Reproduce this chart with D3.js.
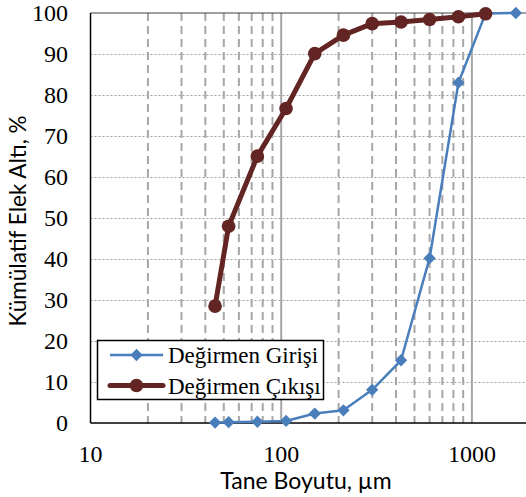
<!DOCTYPE html>
<html>
<head>
<meta charset="utf-8">
<script src="https://cdn.jsdelivr.net/npm/d3@7/dist/d3.min.js"></script>
<style>
  html, body { margin: 0; padding: 0; background: #fff; }
  svg { display: block; }
</style>
</head>
<body>
<svg id="chart" width="526" height="497"></svg>
<script>
// Sieve sizes (µm) and cumulative passing (%) for mill feed and mill product
const sizes = [45, 53, 75, 106, 150, 212, 300, 425, 600, 850, 1180, 1700];
const girisi = [0.1, 0.2, 0.3, 0.5, 2.3, 3.1, 8.1, 15.3, 40.2, 83.0, 99.9, 100];
const cikisiSizes = [45, 53, 75, 106, 150, 212, 300, 425, 600, 850, 1180];
const cikisi = [28.5, 48.0, 65.1, 76.7, 90.1, 94.6, 97.4, 97.8, 98.4, 99.1, 99.8];
const yTicks = [0, 10, 20, 30, 40, 50, 60, 70, 80, 90, 100];
const xTickLabels = [10, 100, 1000];
const seriesNames = ["Değirmen Girişi", "Değirmen Çıkışı"];

const svg = d3.select("#chart");
const plotLeft = 90.5, plotTop = 13, plotBottom = 423, plotRight = 526;
const decade = 190.7;

const x = d3.scaleLog().domain([10, 2000]).range([plotLeft, plotLeft + decade * Math.log10(200)]);
const y = d3.scaleLinear().domain([0, 100]).range([plotBottom, plotTop]);

const serif = "'Liberation Serif', 'Times New Roman', serif";
const sans = "Lato, 'Open Sans', sans-serif";

const grid = svg.append("g");

// horizontal dotted gridlines
grid.selectAll("line.h").data(yTicks.filter(v => v > 0 && v < 100)).join("line")
  .attr("x1", plotLeft).attr("x2", plotRight)
  .attr("y1", d => Math.round(y(d)) + 0.5).attr("y2", d => Math.round(y(d)) + 0.5)
  .attr("stroke", "#a0a0a0").attr("stroke-width", 1.2).attr("stroke-dasharray", "2,2");

// vertical gridlines: dashed minor, solid major
const allX = x.ticks().filter(v => v > 10 && v < 2000);
const majors = allX.filter(v => Math.abs(Math.log10(v) - Math.round(Math.log10(v))) < 1e-9);
const minors = allX.filter(v => !majors.includes(v));
grid.selectAll("line.vm").data(minors).join("line")
  .attr("x1", d => x(d)).attr("x2", d => x(d))
  .attr("y1", plotTop).attr("y2", plotBottom)
  .attr("stroke", "#a6a6a6").attr("stroke-width", 2).attr("stroke-dasharray", "8,5");
grid.selectAll("line.vM").data(majors).join("line")
  .attr("x1", d => x(d)).attr("x2", d => x(d))
  .attr("y1", plotTop).attr("y2", plotBottom)
  .attr("stroke", "#a6a6a6").attr("stroke-width", 2);

// top edge
svg.append("line").attr("x1", plotLeft).attr("x2", plotRight).attr("y1", plotTop).attr("y2", plotTop)
  .attr("stroke", "#404040").attr("stroke-width", 1.2);

// axis lines
svg.append("line").attr("x1", plotLeft).attr("x2", plotLeft).attr("y1", plotTop).attr("y2", plotBottom)
  .attr("stroke", "#000").attr("stroke-width", 1.5);
svg.append("line").attr("x1", plotLeft).attr("x2", plotRight).attr("y1", plotBottom).attr("y2", plotBottom)
  .attr("stroke", "#000").attr("stroke-width", 1.5);

// y tick labels
svg.selectAll("text.yt").data(yTicks).join("text")
  .attr("x", 68).attr("y", d => y(d)).attr("dy", "0.35em")
  .attr("text-anchor", "end").attr("font-family", serif).attr("font-size", 24)
  .text(d => d);

// x tick labels
svg.selectAll("text.xt").data(xTickLabels).join("text")
  .attr("x", d => x(d)).attr("y", 454).attr("dy", "0.35em")
  .attr("text-anchor", "middle").attr("font-family", serif).attr("font-size", 24)
  .text(d => d);

// axis titles
svg.append("text").attr("x", 306).attr("y", 489).attr("text-anchor", "middle")
  .attr("font-family", sans).attr("font-size", 23).text("Tane Boyutu, µm");
svg.append("text").attr("transform", "translate(26,221) rotate(-90)")
  .attr("text-anchor", "middle").attr("font-family", sans).attr("font-size", 22.5)
  .text("Kümülatif Elek Altı, %");

const blue = "#4a7ebb", brown = "#632523";
const line = d3.line().x(d => x(d[0])).y(d => y(d[1]));
const diamond = d3.symbol().type(d3.symbolSquare).size(76);

// mill feed
const gData = sizes.map((s, i) => [s, girisi[i]]);
svg.append("path").attr("d", line(gData)).attr("fill", "none")
  .attr("stroke", blue).attr("stroke-width", 2.5).attr("stroke-linejoin", "round");
svg.selectAll("path.gd").data(gData).join("path")
  .attr("transform", d => `translate(${x(d[0])},${y(d[1])}) rotate(45)`)
  .attr("d", diamond).attr("fill", blue);

// mill product
const cData = cikisiSizes.map((s, i) => [s, cikisi[i]]);
svg.append("path").attr("d", line(cData)).attr("fill", "none")
  .attr("stroke", brown).attr("stroke-width", 5).attr("stroke-linejoin", "round");
svg.selectAll("circle.cd").data(cData).join("circle")
  .attr("cx", d => x(d[0])).attr("cy", d => y(d[1])).attr("r", 6.8).attr("fill", brown);

// legend
const lg = svg.append("g");
lg.append("rect").attr("x", 97.5).attr("y", 340.5).attr("width", 226).attr("height", 59)
  .attr("fill", "#fff").attr("stroke", "#000").attr("stroke-width", 1.5);
const ly = [355, 385.5];
lg.append("line").attr("x1", 110).attr("x2", 163).attr("y1", ly[0]).attr("y2", ly[0])
  .attr("stroke", blue).attr("stroke-width", 2.5);
lg.append("path").attr("transform", `translate(136.5,${ly[0]}) rotate(45)`).attr("d", diamond).attr("fill", blue);
lg.append("line").attr("x1", 110).attr("x2", 163).attr("y1", ly[1]).attr("y2", ly[1])
  .attr("stroke", brown).attr("stroke-width", 5).attr("stroke-linecap", "round");
lg.append("circle").attr("cx", 136.5).attr("cy", ly[1]).attr("r", 6.8).attr("fill", brown);
lg.selectAll("text").data(seriesNames).join("text")
  .attr("x", 168).attr("y", (d, i) => ly[i]).attr("dy", "0.35em")
  .attr("font-family", serif).attr("font-size", 23).text(d => d);
</script>
</body>
</html>
